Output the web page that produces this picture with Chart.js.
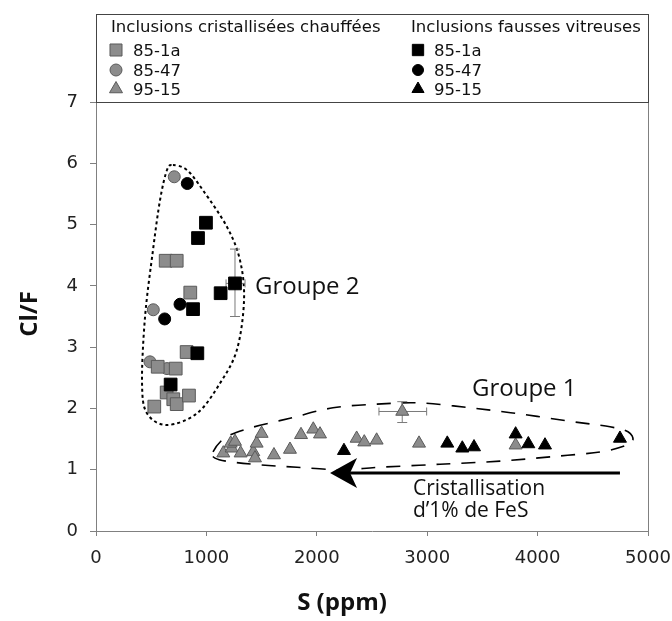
<!DOCTYPE html>
<html>
<head>
<meta charset="utf-8">
<script src="https://cdn.jsdelivr.net/npm/chart.js@4.4.1/dist/chart.umd.min.js"></script>
<style>
    html, body { margin: 0; padding: 0; background: #fff; }
    canvas { display: block; }
</style>
</head>
<body>
<canvas id="clfChart" width="672" height="621"></canvas>
<script>
// Inclusions cristallisées chauffées (grey markers)
const crist85_1aS = [631, 731, 854, 821, 559, 722, 640, 700, 731, 842, 528];
const crist85_1aV = [4.41, 4.41, 3.89, 2.92, 2.68, 2.65, 2.26, 2.15, 2.07, 2.21, 2.03];
const crist85_47S = [709, 519, 489, 643];
const crist85_47V = [5.78, 3.61, 2.76, 2.65];
const crist95_15S = [1153, 1229, 1220, 1259, 1310, 1425, 1440, 1455, 1500, 1612, 1757, 1857, 1968, 2029, 2361, 2430, 2542, 2774, 2926, 3801];
const crist95_15V = [1.27, 1.35, 1.43, 1.46, 1.27, 1.29, 1.19, 1.43, 1.59, 1.24, 1.33, 1.57, 1.66, 1.58, 1.51, 1.45, 1.48, 1.95, 1.43, 1.40];

// Inclusions fausses vitreuses (black markers)
const vitr85_1aS = [996, 924, 1259, 1129, 879, 918, 676];
const vitr85_1aV = [5.03, 4.78, 4.04, 3.88, 3.62, 2.90, 2.39];
const vitr85_47S = [827, 761, 622];
const vitr85_47V = [5.67, 3.70, 3.46];
const vitr95_15S = [2246, 3182, 3318, 3424, 3801, 3916, 4067, 4746];
const vitr95_15V = [1.31, 1.43, 1.35, 1.37, 1.58, 1.42, 1.40, 1.51];

// error bars (point, S range, Cl/F range)
const errS = [1259, 2774];
const errV = [4.04, 1.95];
const errSLow = [1178, 2563];
const errSHigh = [1350, 2995];
const errVLow = [3.50, 1.77];
const errVHigh = [4.60, 2.11];

// group outlines, in data units
const group2OutlineS = [697, 824, 969, 1187, 1304, 1341, 1277, 1123, 915, 643, 462, 417, 444, 516, 580, 643];
const group2OutlineV = [5.97, 5.89, 5.56, 4.96, 4.42, 3.77, 2.96, 2.41, 1.92, 1.73, 1.92, 2.41, 3.49, 4.58, 5.40, 5.89];
const group1OutlineS = [1060, 1168, 1395, 1757, 2147, 2545, 2935, 3388, 3841, 4293, 4656, 4819, 4864, 4792, 4565, 4112, 3659, 3116, 2572, 2210, 1821, 1486, 1214, 1078];
const group1OutlineV = [1.29, 1.52, 1.68, 1.84, 2.01, 2.07, 2.09, 2.01, 1.91, 1.79, 1.70, 1.62, 1.48, 1.39, 1.29, 1.21, 1.14, 1.09, 1.04, 1.00, 1.04, 1.08, 1.13, 1.19];

// crystallisation arrow
const arrowTailS = 4746;
const arrowTipS = 2120;
const arrowV = 0.946;

const xTicks = [0, 1000, 2000, 3000, 4000, 5000];
const yTicks = [0, 1, 2, 3, 4, 5, 6, 7];

const GREY = '#8c8c8c';
const GREY_EDGE = '#5a5a5a';
const AXIS = '#808080';

function pts(sArr, vArr) {
    return sArr.map((s, i) => ({ x: s, y: vArr[i] }));
}

function series(label, sArr, vArr, style, radius, grey) {
    return {
        label: label,
        data: pts(sArr, vArr),
        pointStyle: style,
        pointRadius: radius,
        pointHoverRadius: radius,
        backgroundColor: grey ? GREY : '#000',
        borderColor: grey ? GREY_EDGE : '#000',
        borderWidth: 1,
        order: grey ? 2 : 1,
        showLine: false
    };
}

function smoothClosed(ctx, p) {
    const n = p.length;
    ctx.beginPath();
    ctx.moveTo(p[0].x, p[0].y);
    for (let i = 0; i < n; i++) {
        const p0 = p[(i - 1 + n) % n], p1 = p[i], p2 = p[(i + 1) % n], p3 = p[(i + 2) % n];
        const c1x = p1.x + (p2.x - p0.x) / 6, c1y = p1.y + (p2.y - p0.y) / 6;
        const c2x = p2.x - (p3.x - p1.x) / 6, c2y = p2.y - (p3.y - p1.y) / 6;
        ctx.bezierCurveTo(c1x, c1y, c2x, c2y, p2.x, p2.y);
    }
    ctx.closePath();
}

function drawOutline(ctx, xs, ys, sArr, vArr, dash, width) {
    const p = sArr.map((s, i) => ({ x: xs.getPixelForValue(s), y: ys.getPixelForValue(vArr[i]) }));
    ctx.save();
    ctx.strokeStyle = '#000';
    ctx.lineWidth = width;
    ctx.setLineDash(dash);
    smoothClosed(ctx, p);
    ctx.stroke();
    ctx.restore();
}

function legendMarker(ctx, style, radius, grey, x, y) {
    ctx.save();
    ctx.fillStyle = grey ? GREY : '#000';
    ctx.strokeStyle = grey ? GREY_EDGE : '#000';
    ctx.lineWidth = 1;
    Chart.helpers.drawPoint(ctx, { pointStyle: style, radius: radius, borderWidth: 1, rotation: 0 }, x, y);
    ctx.restore();
}

function noPadding(s) {
    s.paddingLeft = 0;
    s.paddingRight = 0;
    s.paddingTop = 0;
    s.paddingBottom = 0;
}

const overlayPlugin = {
    id: 'overlay',
    beforeDatasetsDraw(chart) {
        const { ctx, scales: { x, y } } = chart;
        drawOutline(ctx, x, y, group2OutlineS, group2OutlineV, [3, 3], 2);
        drawOutline(ctx, x, y, group1OutlineS, group1OutlineV, [14, 11], 1.6);

        ctx.save();
        ctx.strokeStyle = '#7a7a7a';
        ctx.lineWidth = 1;
        for (let i = 0; i < errS.length; i++) {
            const px = x.getPixelForValue(errS[i]), py = y.getPixelForValue(errV[i]);
            const xl = x.getPixelForValue(errSLow[i]), xh = x.getPixelForValue(errSHigh[i]);
            const yl = y.getPixelForValue(errVLow[i]), yh = y.getPixelForValue(errVHigh[i]);
            ctx.beginPath();
            ctx.moveTo(xl, py); ctx.lineTo(xh, py);
            ctx.moveTo(xl, py - 4); ctx.lineTo(xl, py + 4);
            ctx.moveTo(xh, py - 4); ctx.lineTo(xh, py + 4);
            ctx.moveTo(px, yl); ctx.lineTo(px, yh);
            ctx.moveTo(px - 5, yl); ctx.lineTo(px + 5, yl);
            ctx.moveTo(px - 5, yh); ctx.lineTo(px + 5, yh);
            ctx.stroke();
        }
        ctx.restore();
    },
    afterDatasetsDraw(chart) {
        const { ctx, scales: { x, y } } = chart;
        // arrow
        const tx = x.getPixelForValue(arrowTipS), ex = x.getPixelForValue(arrowTailS), ay = y.getPixelForValue(arrowV);
        ctx.save();
        ctx.strokeStyle = '#000';
        ctx.fillStyle = '#000';
        ctx.lineWidth = 3;
        ctx.beginPath();
        ctx.moveTo(tx + 20, ay); ctx.lineTo(ex, ay);
        ctx.stroke();
        ctx.beginPath();
        ctx.moveTo(tx, ay);
        ctx.lineTo(tx + 27, ay - 15);
        ctx.lineTo(tx + 20, ay);
        ctx.lineTo(tx + 27, ay + 15);
        ctx.closePath();
        ctx.fill();

        ctx.fillStyle = '#111';
        ctx.textBaseline = 'alphabetic';
        ctx.textAlign = 'left';
        ctx.font = '24px "Open Sans"';
        ctx.fillText('Groupe 2', x.getPixelForValue(1440), y.getPixelForValue(3.87));
        ctx.fillText('Groupe 1', x.getPixelForValue(3406), y.getPixelForValue(2.20));
        ctx.font = '21px "Open Sans"';
        ctx.fillText('Cristallisation', x.getPixelForValue(2871), y.getPixelForValue(0.59));
        ctx.fillText('d\u20191% de FeS', x.getPixelForValue(2871), y.getPixelForValue(0.23));
        ctx.restore();
    },
    afterDraw(chart) {
        const { ctx, chartArea: a } = chart;
        ctx.save();
        ctx.strokeStyle = AXIS;
        ctx.lineWidth = 1;
        ctx.beginPath();
        ctx.moveTo(a.left, a.top + 0.5); ctx.lineTo(a.right + 0.5, a.top + 0.5);
        ctx.lineTo(a.right + 0.5, a.bottom);
        ctx.stroke();

        // legend box
        const top = 14;
        ctx.strokeStyle = '#444';
        ctx.strokeRect(a.left + 0.5, top + 0.5, a.right - a.left, a.top - top);

        ctx.fillStyle = '#111';
        ctx.font = '16.5px "DejaVu Sans"';
        ctx.textBaseline = 'alphabetic';
        ctx.textAlign = 'left';
        ctx.fillText('Inclusions cristallisées chauffées', 111, 32);
        ctx.fillText('Inclusions fausses vitreuses', 411, 32);
        const rowsY = [50, 70, 89];
        const names = ['85-1a', '85-47', '95-15'];
        const styles = ['rect', 'circle', 'triangle'];
        const radii = [8.5, 6, 7.5];
        for (let i = 0; i < 3; i++) {
            legendMarker(ctx, styles[i], radii[i], true, 116, rowsY[i]);
            legendMarker(ctx, styles[i], radii[i] - 0.5, false, 418, rowsY[i]);
            ctx.fillStyle = '#111';
            ctx.fillText(names[i], 133, rowsY[i] + 6);
            ctx.fillText(names[i], 434, rowsY[i] + 6);
        }

        // axis titles
        ctx.font = 'bold 24px "Open Sans"';
        ctx.textAlign = 'center';
        ctx.textBaseline = 'middle';
        ctx.fillText('S (ppm)', 342, 603);
        ctx.translate(30, 314);
        ctx.rotate(-Math.PI / 2);
        ctx.fillText('Cl/F', 0, 0);
        ctx.restore();
    }
};

const tickFont = { family: '"DejaVu Sans"', size: 18 };

new Chart(document.getElementById('clfChart'), {
    type: 'scatter',
    data: {
        datasets: [
            series('85-1a (vitreuses)', vitr85_1aS, vitr85_1aV, 'rect', 9, false),
            series('85-47 (vitreuses)', vitr85_47S, vitr85_47V, 'circle', 6, false),
            series('95-15 (vitreuses)', vitr95_15S, vitr95_15V, 'triangle', 7.5, false),
            series('85-1a', crist85_1aS, crist85_1aV, 'rect', 9, true),
            series('85-47', crist85_47S, crist85_47V, 'circle', 6, true),
            series('95-15', crist95_15S, crist95_15V, 'triangle', 7.5, true)
        ]
    },
    options: {
        responsive: false,
        animation: false,
        layout: { padding: { top: 102, right: 24, left: 0, bottom: 0 } },
        plugins: { legend: { display: false }, tooltip: { enabled: false } },
        scales: {
            x: {
                type: 'linear',
                min: 0,
                max: 5000,
                afterBuildTicks: s => { s.ticks = xTicks.map(v => ({ value: v })); },
                afterFit: s => { s.height = 90; noPadding(s); },
                ticks: { font: tickFont, color: '#222', padding: 12, maxRotation: 0, callback: v => String(v) },
                grid: { display: true, drawOnChartArea: false, drawTicks: true, tickLength: 5, color: AXIS },
                border: { display: true, color: AXIS },
                title: { display: false }
            },
            y: {
                type: 'linear',
                min: 0,
                max: 7,
                afterBuildTicks: s => { s.ticks = yTicks.map(v => ({ value: v })); },
                afterFit: s => { s.width = 96; noPadding(s); },
                ticks: { font: tickFont, color: '#222', padding: 12, callback: v => String(v) },
                grid: { display: true, drawOnChartArea: false, drawTicks: true, tickLength: 6, color: AXIS },
                border: { display: true, color: AXIS },
                title: { display: false }
            }
        }
    },
    plugins: [overlayPlugin]
});
</script>
</body>
</html>
